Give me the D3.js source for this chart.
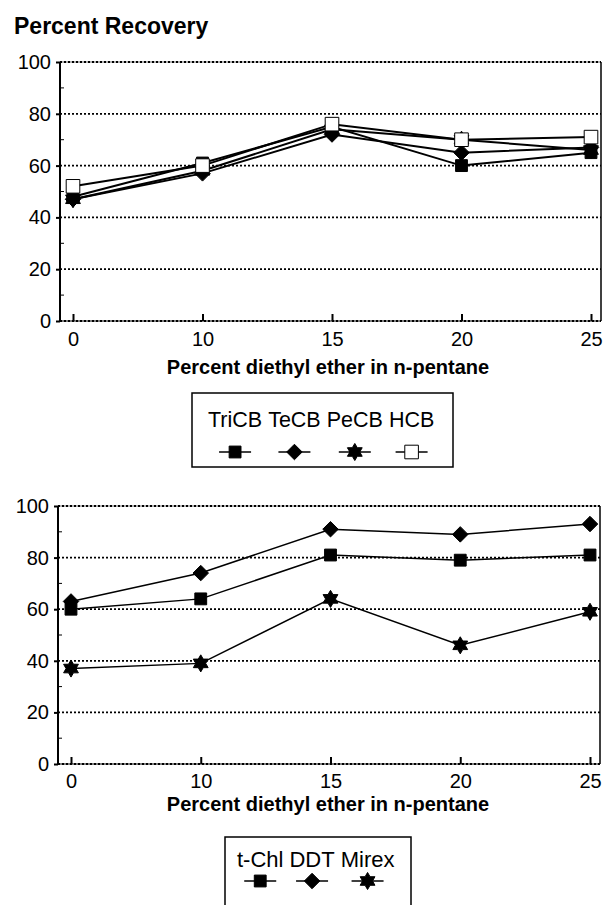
<!DOCTYPE html>
<html>
<head>
<meta charset="utf-8">
<script src="https://cdn.jsdelivr.net/npm/d3@7"></script>
<style>
  body { margin: 0; background: #fff; }
  text { font-family: "Liberation Sans", Arial, sans-serif; fill: #000; }
</style>
</head>
<body>
<svg id="chart" width="603" height="905"></svg>
<script>
// x categories (evenly spaced on the original plot)
const xCats = ["0", "10", "15", "20", "25"];
const yTicks = [0, 20, 40, 60, 80, 100];
const yMinor = [10, 30, 50, 70, 90];

// top panel series
const triCB = [48, 61, 75, 60, 65];
const teCB  = [47, 57, 72, 65, 67];
const peCB  = [47, 58, 74, 70, 66];
const hcb   = [52, 60, 76, 70, 71];

// bottom panel series
const tChl  = [60, 64, 81, 79, 81];
const ddt   = [63, 74, 91, 89, 93];
const mirex = [37, 39, 64, 46, 59];

const svg = d3.select("#chart");
const FONT = "Liberation Sans, Arial, sans-serif";

// six pointed star
const star6 = {
  draw(ctx, size) {
    const r = Math.sqrt(size) * 0.62, ri = r * 0.58;
    for (let i = 0; i < 12; i++) {
      const a = -Math.PI / 2 + i * Math.PI / 6;
      const rr = i % 2 === 0 ? r : ri;
      const px = Math.cos(a) * rr, py = Math.sin(a) * rr;
      if (i === 0) ctx.moveTo(px, py); else ctx.lineTo(px, py);
    }
    ctx.closePath();
  }
};
// wide diamond (rotated square look)
const diamond = {
  draw(ctx, size) {
    const r = Math.sqrt(size) / 2;
    ctx.moveTo(0, -r); ctx.lineTo(r, 0); ctx.lineTo(0, r); ctx.lineTo(-r, 0);
    ctx.closePath();
  }
};

const markers = {
  square: { type: d3.symbolSquare, size: 140, fill: "#000" },
  diamond: { type: diamond, size: 240, fill: "#000" },
  star: { type: star6, size: 190, fill: "#000" },
  open: { type: d3.symbolSquare, size: 185, fill: "#fff" }
};

function drawPanel(opt) {
  const g = svg.append("g");
  const x = d3.scalePoint().domain(xCats).range([opt.x0, opt.x1]);
  const y = d3.scaleLinear().domain([0, 100]).range([opt.yB, opt.yT]);

  // dotted gridlines
  g.selectAll(".grid").data(yTicks).enter().append("line")
    .attr("x1", opt.left).attr("x2", opt.right)
    .attr("y1", d => y(d)).attr("y2", d => y(d))
    .attr("stroke", "#000").attr("stroke-width", 1.8)
    .attr("stroke-dasharray", "2,2");

  // frame
  g.append("line").attr("x1", opt.left).attr("x2", opt.left)
    .attr("y1", y(100)).attr("y2", y(0)).attr("stroke", "#000").attr("stroke-width", 2);
  g.append("line").attr("x1", opt.right).attr("x2", opt.right)
    .attr("y1", y(100)).attr("y2", y(0)).attr("stroke", "#000").attr("stroke-width", 1.5);
  g.append("line").attr("x1", opt.left).attr("x2", opt.right)
    .attr("y1", y(0)).attr("y2", y(0)).attr("stroke", "#000").attr("stroke-width", 1.2);
  g.append("line").attr("x1", opt.left).attr("x2", opt.right)
    .attr("y1", y(100)).attr("y2", y(100)).attr("stroke", "#000").attr("stroke-width", 0.6);

  // y axis labels and ticks
  const yAxis = d3.axisLeft(y).tickValues(yTicks).tickSize(4).tickPadding(5);
  const ya = g.append("g").attr("transform", `translate(${opt.left},0)`).call(yAxis);
  ya.select(".domain").remove();
  ya.selectAll("line").attr("stroke-width", 2);
  ya.selectAll("text").attr("font-size", 20).attr("font-family", FONT);

  // minor ticks inside
  g.selectAll(".minor").data(yMinor).enter().append("line")
    .attr("x1", opt.left).attr("x2", opt.left + 4)
    .attr("y1", d => y(d)).attr("y2", d => y(d))
    .attr("stroke", "#000").attr("stroke-width", 1);

  // x axis, ticks pointing up into the plot
  const xAxis = d3.axisBottom(x).tickSize(-7).tickPadding(opt.xPad);
  const xa = g.append("g").attr("transform", `translate(0,${y(0)})`).call(xAxis);
  xa.select(".domain").remove();
  xa.selectAll("line").attr("stroke-width", 2);
  xa.selectAll("text").attr("font-size", 20).attr("font-family", FONT);

  g.append("text").attr("x", opt.titleX).attr("y", opt.titleY)
    .attr("text-anchor", "middle").attr("font-weight", "bold").attr("font-size", 20)
    .text("Percent diethyl ether in n-pentane");

  const line = d3.line().x((d, i) => x(xCats[i])).y(d => y(d));

  opt.series.forEach(s => {
    g.append("path").datum(s.values).attr("d", line)
      .attr("fill", "none").attr("stroke", "#000").attr("stroke-width", opt.lw);
    const m = markers[s.marker];
    g.selectAll(null).data(s.values).enter().append("path")
      .attr("transform", (d, i) => `translate(${x(xCats[i])},${y(d)})`)
      .attr("d", d3.symbol().type(m.type).size(m.size))
      .attr("fill", m.fill).attr("stroke", "#000").attr("stroke-width", 1);
  });

  // legend box, names laid out as one line of words, symbol under each word
  const L = opt.legend;
  const lg = g.append("g");
  lg.append("rect").attr("x", L.x).attr("y", L.y)
    .attr("width", L.w).attr("height", L.h)
    .attr("fill", "none").attr("stroke", "#000").attr("stroke-width", 1.5);
  let cursor = L.tx;
  opt.series.forEach((s, i) => {
    const t = lg.append("text").attr("x", cursor).attr("y", L.ty)
      .attr("font-size", L.fs).text(s.name);
    const w = t.node().getComputedTextLength();
    const cx = cursor + w / 2;
    cursor += w + L.gap;
    lg.append("line").attr("x1", cx - 16).attr("x2", cx + 16)
      .attr("y1", L.sy).attr("y2", L.sy).attr("stroke", "#000").attr("stroke-width", 1.5);
    const m = markers[s.marker];
    lg.append("path").attr("transform", `translate(${cx},${L.sy})`)
      .attr("d", d3.symbol().type(m.type).size(m.size))
      .attr("fill", m.fill).attr("stroke", "#000").attr("stroke-width", 1);
  });
}

svg.append("text").attr("x", 14).attr("y", 34)
  .attr("font-weight", "bold").attr("font-size", 23).text("Percent Recovery");

drawPanel({
  left: 60, right: 601, x0: 73, x1: 591, yT: 62, yB: 321,
  xPad: 11, titleX: 328, titleY: 374, lw: 2,
  series: [
    { name: "TriCB", values: triCB, marker: "square" },
    { name: "TeCB", values: teCB, marker: "diamond" },
    { name: "PeCB", values: peCB, marker: "star" },
    { name: "HCB", values: hcb, marker: "open" }
  ],
  legend: { x: 192, y: 393, w: 261, h: 74, tx: 208, ty: 427, sy: 452, fs: 21.5, gap: 6 }
});

drawPanel({
  left: 58, right: 600, x0: 71, x1: 590, yT: 506, yB: 764,
  xPad: 10, titleX: 328, titleY: 811, lw: 1.5,
  series: [
    { name: "t-Chl", values: tChl, marker: "square" },
    { name: "DDT", values: ddt, marker: "diamond" },
    { name: "Mirex", values: mirex, marker: "star" }
  ],
  legend: { x: 225, y: 837, w: 186, h: 90, tx: 237, ty: 867, sy: 881, fs: 22, gap: 6 }
});
</script>
</body>
</html>
